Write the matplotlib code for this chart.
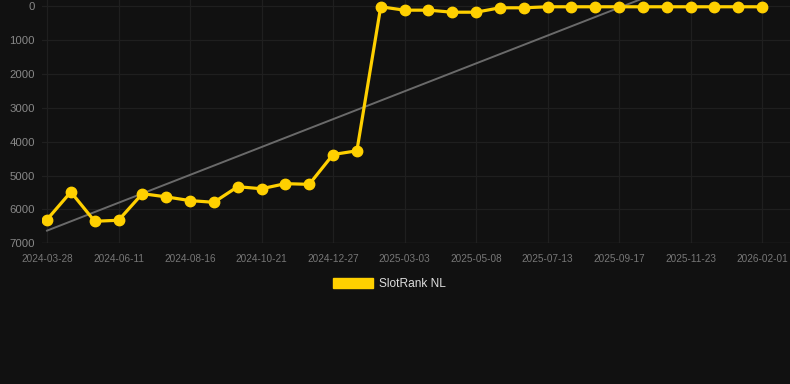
import numpy as np
import matplotlib
matplotlib.use("Agg")
import matplotlib.pyplot as plt
from matplotlib.patches import Patch

# Data
tick_labels = ["2024-03-28", "2024-06-11", "2024-08-16", "2024-10-21", "2024-12-27",
               "2025-03-03", "2025-05-08", "2025-07-13", "2025-09-17", "2025-11-23",
               "2026-02-01"]
rank_values = [6300, 5485, 6350, 6320, 5535, 5630, 5740, 5790, 5330, 5390, 5240,
               5260, 4380, 4270, 20, 120, 120, 180, 180, 50, 50, 20, 20, 20, 20,
               20, 20, 20, 20, 20, 20]
series_name = "SlotRank NL"

BG = "#111111"
GRID = "#1f1f1f"
YELLOW = "#FFD000"

plt.rcParams['font.family'] = ['Liberation Sans', 'DejaVu Sans']

fig = plt.figure(figsize=(7.9, 3.84), dpi=100, facecolor=BG)
ax = fig.add_axes([42/790, 1 - 243.3/384, 1 - 42/790, 243.3/384])
ax.set_facecolor(BG)

x = np.arange(len(rank_values))
y = np.array(rank_values, dtype=float)

# trend line (linear regression)
coef = np.polyfit(x, y, 1)
ax.plot(x, np.polyval(coef, x), color="#6a6a6a", lw=1.4, zorder=2)

ax.plot(x, y, color=YELLOW, lw=2.3, marker='o', markersize=7.5,
        markerfacecolor=YELLOW, markeredgecolor=YELLOW, zorder=3)

ax.set_xlim(-0.21, 31.17)
ax.set_ylim(7000, -180)

tick_pos = np.arange(0, len(rank_values), 3)
ax.set_xticks(tick_pos)
ax.set_xticklabels(tick_labels)
ax.set_yticks(np.arange(0, 7001, 1000))
ax.set_yticklabels([str(v) for v in range(0, 7001, 1000)])

ax.grid(True, color=GRID, lw=0.9)
ax.set_axisbelow(True)
for s in ax.spines.values():
    s.set_visible(False)
ax.axhline(7000, color="#2a2a2a", lw=1.0, zorder=1)

ax.tick_params(axis='x', colors=GRID, labelcolor="#777777", labelsize=7.2,
               length=0, pad=8)
ax.tick_params(axis='y', colors=GRID, labelcolor="#888888", labelsize=8.2,
               length=0, pad=5)

handles = [Patch(facecolor=YELLOW, edgecolor=YELLOW, label=series_name)]
leg = fig.legend(handles=handles, loc='center', bbox_to_anchor=(389.5/790, 1 - 284/384),
                 frameon=False, fontsize=8.6, handlelength=3.3, handleheight=1.0,
                 handletextpad=0.5, labelcolor="#dddddd")

fig.savefig("out.png", dpi=100, facecolor=BG)
